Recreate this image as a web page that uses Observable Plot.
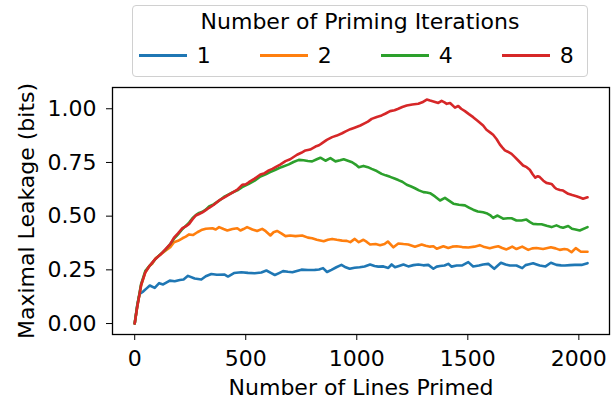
<!DOCTYPE html>
<html><head><meta charset="utf-8">
<script src="https://cdn.jsdelivr.net/npm/d3@7"></script>
<script src="https://cdn.jsdelivr.net/npm/@observablehq/plot@0.6"></script>
<style>
body{margin:0;background:#fff;}
#wrap{position:relative;width:613px;height:402px;font-family:"DejaVu Sans",sans-serif;color:#000;}
#legend{position:absolute;left:132px;top:5px;width:456px;height:72px;box-sizing:border-box;border:1.3px solid #d0d0d0;border-radius:4px;background:rgba(255,255,255,0.8);}
#legend .title{position:absolute;left:0;right:0;top:5.1px;text-align:center;font-size:22px;line-height:22px;white-space:nowrap;}
#legend .sw{position:absolute;height:2.6px;top:48.4px;width:47.4px;}
#legend .lab{position:absolute;top:39.1px;font-size:22px;line-height:22px;}
</style>
</head><body><div id="wrap"></div>
<script>
const seriesNames = ["1", "2", "4", "8"];
const seriesColors = ["#1f77b4", "#ff7f0e", "#2ca02c", "#d62728"];
const xTicks = [0, 500, 1000, 1500, 2000];
const yTicks = [0, 0.25, 0.5, 0.75, 1.0];

const iter1 = [[0,0],[12,0.09],[22,0.138],[39,0.15],[55,0.165],[68,0.177],[90,0.166],[110,0.188],[128,0.182],[158,0.2],[180,0.197],[203,0.203],[220,0.205],[240,0.222],[270,0.21],[300,0.205],[320,0.22],[345,0.231],[370,0.227],[405,0.228],[420,0.219],[447,0.235],[480,0.239],[510,0.236],[540,0.234],[570,0.238],[593,0.247],[615,0.235],[631,0.226],[650,0.235],[668,0.244],[690,0.241],[710,0.239],[730,0.245],[751,0.251],[780,0.249],[811,0.25],[830,0.252],[848,0.258],[866,0.24],[886,0.25],[908,0.262],[931,0.273],[950,0.262],[968,0.255],[990,0.26],[1013,0.262],[1035,0.266],[1060,0.275],[1080,0.268],[1097,0.265],[1120,0.266],[1142,0.259],[1157,0.275],[1172,0.262],[1190,0.268],[1210,0.275],[1232,0.266],[1255,0.272],[1277,0.275],[1300,0.271],[1322,0.273],[1345,0.255],[1360,0.265],[1375,0.268],[1395,0.27],[1412,0.278],[1427,0.265],[1450,0.27],[1475,0.271],[1502,0.286],[1524,0.266],[1550,0.27],[1569,0.275],[1592,0.278],[1619,0.255],[1649,0.283],[1670,0.275],[1689,0.27],[1719,0.27],[1745,0.258],[1760,0.272],[1772,0.275],[1794,0.281],[1810,0.275],[1824,0.27],[1850,0.266],[1874,0.283],[1899,0.273],[1920,0.271],[1937,0.27],[1960,0.272],[1982,0.273],[2012,0.273],[2039,0.281]];

const iter2 = [[0,0],[11,0.076],[29,0.177],[48,0.239],[65,0.267],[80,0.28],[95,0.305],[115,0.32],[140,0.34],[160,0.355],[177,0.379],[195,0.385],[215,0.397],[230,0.405],[245,0.415],[262,0.412],[282,0.425],[300,0.435],[320,0.441],[350,0.444],[365,0.438],[380,0.449],[400,0.44],[417,0.433],[440,0.44],[462,0.444],[476,0.433],[490,0.44],[506,0.449],[530,0.438],[551,0.431],[574,0.441],[590,0.43],[611,0.41],[625,0.425],[641,0.431],[660,0.42],[679,0.407],[700,0.41],[724,0.407],[754,0.41],[780,0.4],[799,0.397],[820,0.39],[851,0.383],[870,0.39],[889,0.394],[910,0.39],[934,0.386],[955,0.385],[971,0.379],[991,0.394],[1009,0.379],[1030,0.39],[1045,0.38],[1060,0.368],[1085,0.37],[1105,0.365],[1125,0.37],[1140,0.382],[1165,0.355],[1187,0.373],[1210,0.37],[1232,0.368],[1262,0.358],[1292,0.368],[1310,0.362],[1330,0.358],[1345,0.36],[1360,0.348],[1390,0.36],[1412,0.352],[1430,0.358],[1450,0.36],[1475,0.356],[1502,0.354],[1530,0.358],[1554,0.365],[1575,0.356],[1599,0.351],[1620,0.356],[1637,0.36],[1655,0.352],[1674,0.345],[1700,0.358],[1719,0.347],[1745,0.358],[1772,0.343],[1790,0.35],[1809,0.352],[1839,0.347],[1874,0.355],[1895,0.35],[1914,0.343],[1935,0.347],[1949,0.345],[1967,0.332],[1986,0.351],[2009,0.334],[2039,0.334]];

const iter4 = [[0,0],[11,0.08],[29,0.185],[48,0.245],[68,0.27],[93,0.3],[115,0.322],[140,0.345],[160,0.37],[177,0.395],[195,0.415],[215,0.44],[230,0.455],[245,0.47],[260,0.49],[275,0.505],[290,0.515],[305,0.52],[320,0.53],[335,0.545],[355,0.555],[380,0.572],[400,0.588],[417,0.598],[440,0.61],[462,0.62],[484,0.635],[514,0.65],[540,0.665],[566,0.685],[590,0.695],[610,0.705],[634,0.716],[660,0.728],[694,0.741],[715,0.752],[739,0.762],[760,0.76],[780,0.757],[799,0.755],[820,0.765],[836,0.772],[859,0.758],[881,0.77],[904,0.755],[925,0.76],[941,0.765],[960,0.758],[979,0.751],[995,0.74],[1009,0.728],[1030,0.734],[1050,0.728],[1067,0.72],[1090,0.71],[1112,0.697],[1130,0.69],[1150,0.683],[1170,0.675],[1187,0.668],[1205,0.66],[1225,0.646],[1245,0.638],[1262,0.63],[1280,0.62],[1300,0.612],[1315,0.61],[1330,0.607],[1352,0.592],[1375,0.573],[1397,0.585],[1415,0.572],[1435,0.558],[1460,0.553],[1487,0.55],[1505,0.54],[1524,0.53],[1545,0.522],[1569,0.518],[1584,0.514],[1600,0.505],[1614,0.492],[1634,0.503],[1659,0.488],[1680,0.49],[1697,0.49],[1719,0.48],[1742,0.48],[1764,0.484],[1780,0.472],[1794,0.464],[1815,0.462],[1832,0.462],[1855,0.455],[1877,0.449],[1899,0.457],[1915,0.45],[1929,0.446],[1952,0.454],[1969,0.441],[1985,0.438],[2004,0.433],[2039,0.449]];

const iter8 = [[0,0],[11,0.076],[29,0.18],[48,0.239],[68,0.27],[93,0.301],[115,0.32],[140,0.348],[160,0.37],[177,0.4],[195,0.42],[215,0.444],[230,0.452],[245,0.464],[260,0.485],[275,0.503],[290,0.51],[305,0.518],[320,0.528],[335,0.539],[355,0.552],[380,0.573],[400,0.585],[417,0.596],[440,0.61],[462,0.623],[484,0.646],[500,0.648],[514,0.658],[540,0.675],[566,0.694],[585,0.7],[604,0.713],[620,0.72],[634,0.728],[655,0.74],[679,0.756],[700,0.765],[731,0.786],[750,0.795],[769,0.806],[790,0.81],[814,0.824],[830,0.83],[844,0.84],[865,0.855],[889,0.868],[910,0.875],[934,0.886],[950,0.895],[971,0.905],[990,0.912],[1016,0.922],[1037,0.933],[1050,0.94],[1067,0.953],[1090,0.962],[1112,0.969],[1130,0.978],[1150,0.989],[1170,0.993],[1187,1.0],[1205,1.008],[1225,1.015],[1250,1.02],[1277,1.023],[1295,1.03],[1315,1.043],[1330,1.038],[1345,1.034],[1367,1.027],[1382,1.037],[1395,1.03],[1405,1.023],[1420,1.027],[1435,1.012],[1442,1.005],[1457,1.013],[1470,1.0],[1487,0.989],[1505,0.975],[1524,0.961],[1545,0.943],[1569,0.922],[1584,0.902],[1600,0.89],[1614,0.879],[1630,0.858],[1644,0.834],[1655,0.82],[1667,0.806],[1680,0.8],[1697,0.79],[1712,0.775],[1727,0.759],[1749,0.736],[1765,0.728],[1779,0.716],[1792,0.695],[1804,0.679],[1815,0.686],[1824,0.682],[1840,0.665],[1854,0.655],[1877,0.65],[1890,0.635],[1899,0.627],[1915,0.622],[1929,0.619],[1952,0.604],[1970,0.598],[1989,0.593],[2005,0.587],[2019,0.581],[2039,0.588]];

const seriesData = [iter1, iter2, iter4, iter8];
const rows = seriesData.flatMap((pts, i) => pts.map(([x, y]) => ({series: seriesNames[i], x, y})));

const chart = Plot.plot({
  width: 613,
  height: 402,
  marginLeft: 112,
  marginRight: 4,
  marginTop: 87,
  marginBottom: 68,
  style: {fontFamily: "DejaVu Sans", fontSize: "22px", color: "#000", background: "transparent", overflow: "visible"},
  x: {domain: [-100, 2138], ticks: xTicks, tickFormat: d => String(d), tickSize: 6, tickPadding: 10,
      label: "Number of Lines Primed", labelAnchor: "center", labelOffset: 60, labelArrow: "none"},
  y: {domain: [-0.051, 1.099], ticks: yTicks, tickFormat: d3.format(".2f"), tickSize: 6, tickPadding: 10,
      label: "Maximal Leakage (bits)", labelAnchor: "center", labelOffset: 94, labelArrow: "none"},
  color: {domain: seriesNames, range: seriesColors},
  marks: [
    Plot.line(rows, {x: "x", y: "y", z: "series", stroke: "series", strokeWidth: 2.6, strokeLinejoin: "round"}),
    Plot.frame({stroke: "#000", strokeWidth: 1.3})
  ]
});

const wrap = document.getElementById("wrap");
wrap.appendChild(chart);

const legend = document.createElement("div");
legend.id = "legend";
const title = document.createElement("div");
title.className = "title";
title.textContent = "Number of Priming Iterations";
legend.appendChild(title);
seriesNames.forEach((name, i) => {
  const sw = document.createElement("div");
  sw.className = "sw";
  sw.style.left = (6.3 + i * 121) + "px";
  sw.style.background = seriesColors[i];
  legend.appendChild(sw);
  const lab = document.createElement("div");
  lab.className = "lab";
  lab.style.left = (6.3 + i * 121 + 57.5) + "px";
  lab.textContent = name;
  legend.appendChild(lab);
});
wrap.appendChild(legend);
</script>
</body></html>
